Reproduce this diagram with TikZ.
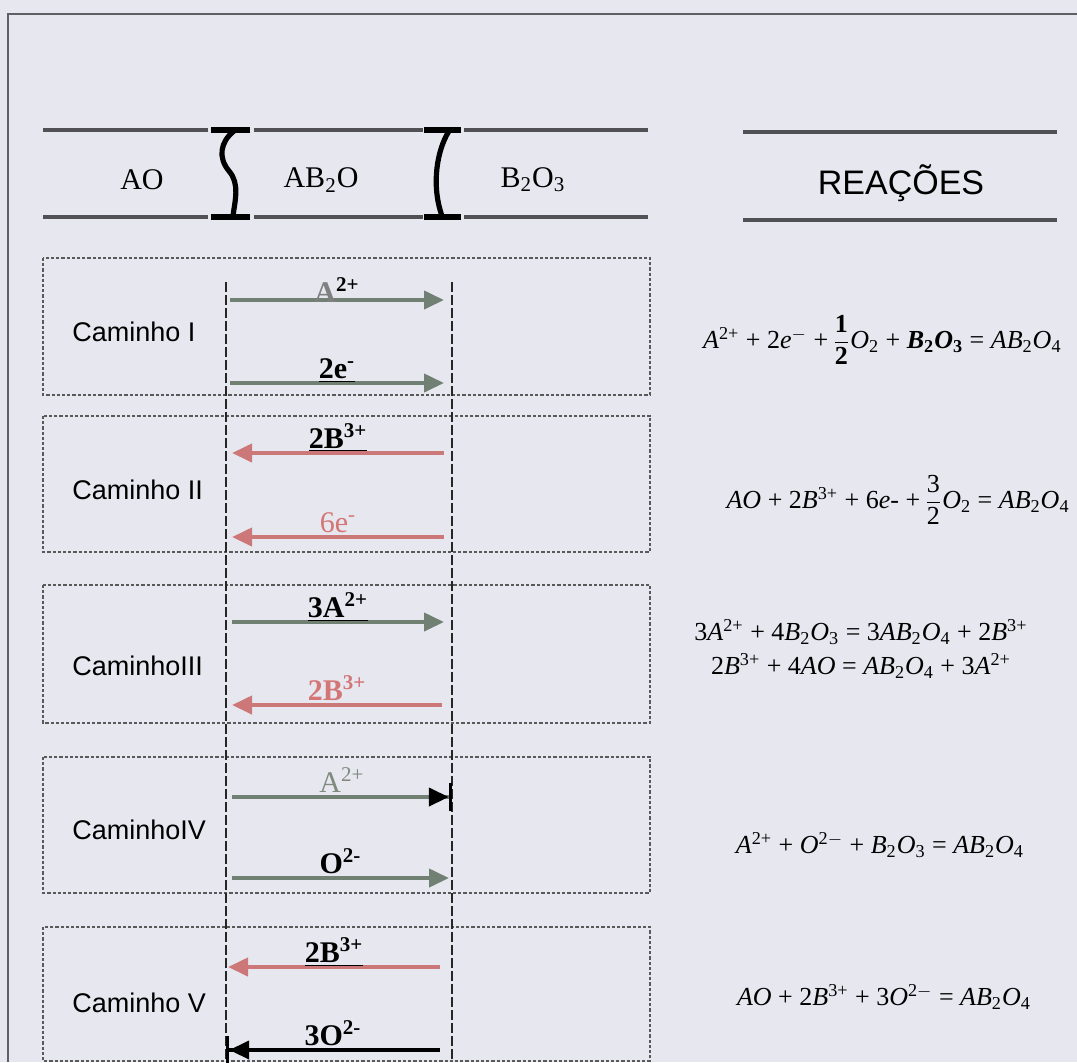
\documentclass[tikz,border=0pt]{standalone}
\usepackage{fontspec}
\setmainfont{Liberation Serif}
\newfontfamily\arialfont{Liberation Sans}
\usetikzlibrary{arrows.meta}
\definecolor{paper}{RGB}{231,231,240}
\definecolor{framegray}{RGB}{95,95,100}
\definecolor{rulegray}{RGB}{80,80,85}
\definecolor{ionA}{RGB}{112,128,114}
\definecolor{ionB}{RGB}{205,120,120}
\definecolor{labA}{RGB}{125,138,125}
\definecolor{labB}{RGB}{212,118,118}
\newcommand{\up}[1]{\textsuperscript{#1}}
\newcommand{\dn}[1]{\textsubscript{#1}}

\begin{document}
\begin{tikzpicture}[x=0.5pt, y=-0.5pt,
    hdr/.style={rulegray, line width=2pt},
    ibar/.style={black, line width=2.6pt},
    pathbox/.style={draw=gray!70!black, line width=0.8pt, dash pattern=on 1.6pt off 1pt},
    iface/.style={gray!30!black, line width=1pt, dash pattern=on 5pt off 1.5pt},
    tipA/.style={-{Triangle[length=10pt,width=9pt]}},
    fwd/.style={ionA, line width=2pt, tipA},
    bwd/.style={ionB, line width=2pt, tipA},
    caminho/.style={font=\arialfont\fontsize{13.5}{16}\selectfont, anchor=west, inner sep=0pt},
    phase/.style={font=\fontsize{15}{18}\selectfont, inner sep=0pt},
    ion/.style={font=\bfseries\fontsize{15}{18}\selectfont, text=black, inner sep=0pt, anchor=base, yshift=2.5pt},
    eqn/.style={font=\fontsize{13}{17}\selectfont, align=center, inner sep=0pt}]
  \useasboundingbox (0,0) rectangle (1077,1062);
  \fill[paper] (0,0) rectangle (1077,1062);
  \draw[framegray, line width=1.2pt] (8,1062) -- (8,14) -- (1077,14);

  % Header: phases
  \draw[hdr] (43,130) -- (208,130) (254,130) -- (423,130) (464,130) -- (648,130);
  \draw[hdr] (43,217) -- (208,217) (254,217) -- (423,217) (464,217) -- (648,217);
  \draw[ibar] (211,130) -- (250,130) (211,217) -- (250,217);
  \draw[ibar] (234,131) .. controls (220,142) and (218,158) .. (229,171)
                        .. controls (240,184) and (235,200) .. (233,216);
  \draw[ibar] (424,130) -- (461,130) (424,217) -- (461,217);
  \draw[ibar] (449,131) .. controls (437,150) and (431,185) .. (442,216);
  \node[phase] (ao)  at (142,180) {AO};
  \node[phase] (ab)  at (321,180) {AB\dn{2}O};
  \node[phase] (bo)  at (533,180) {B\dn{2}O\dn{3}};

  % Header: reacoes
  \draw[hdr] (743,132) -- (1057,132) (743,220) -- (1057,220);
  \node[font=\arialfont\fontsize{17}{20}\selectfont] (reac) at (901,183) {REAÇÕES};

  % boxes and interfaces
  \foreach \t/\b in {258/395, 416/552, 585/723, 757/893, 927/1061}
    \draw[pathbox] (43,\t) rectangle (650,\b);
  \draw[iface] (226,282) -- (226,1062);
  \draw[iface] (452,282) -- (452,1062);

  % Caminho I
  \node[caminho] (c1) at (72,332) {Caminho I};
  \coordinate (l1) at (230,300); \coordinate (r1) at (444,300);
  \coordinate (l2) at (230,383); \coordinate (r2) at (444,383);
  \draw[fwd] (l1) -- (r1) node[ion, midway, yshift=-3.5pt] {{\color{gray}A}\up{2+}};
  \draw[fwd] (l2) -- (r2) node[ion, midway] {\underline{2e\up{-}}};
  \node[eqn, anchor=east] (eq1) at (1062,340)
    {\textit{A}\up{2+} + 2\textit{e}\up{$-$} +\,$\displaystyle\frac{\mbox{\bfseries 1}}{\mbox{\bfseries 2}}$\textit{O}\dn{2}
     + \textbf{\textit{B}\dn{2}\textit{O}\dn{3}} = \textit{AB}\dn{2}\textit{O}\dn{4}};

  % Caminho II
  \node[caminho] (c2) at (72,490) {Caminho II};
  \coordinate (l3) at (232,453); \coordinate (r3) at (444,453);
  \coordinate (l4) at (232,537); \coordinate (r4) at (444,537);
  \draw[bwd] (r3) -- (l3) node[ion, midway] {\underline{2B\up{3+}}};
  \draw[bwd] (r4) -- (l4) node[ion, midway, font=\fontsize{15}{18}\selectfont, text=labB] {6e\up{-}};
  \node[eqn, anchor=east] (eq2) at (1070,500)
    {\textit{AO} + 2\textit{B}\up{3+} + 6\textit{e}- +\,$\displaystyle\frac{\mbox{3}}{\mbox{2}}$\textit{O}\dn{2} = \textit{AB}\dn{2}\textit{O}\dn{4}};

  % Caminho III
  \node[caminho] (c3) at (72,666) {CaminhoIII};
  \coordinate (l5) at (232,622); \coordinate (r5) at (444,622);
  \coordinate (l6) at (232,705); \coordinate (r6) at (442,705);
  \draw[fwd] (l5) -- (r5) node[ion, midway] {\underline{3A\up{2+}}};
  \draw[bwd] (r6) -- (l6) node[ion, midway, text=labB] {2B\up{3+}};
  \node[eqn] (eq3) at (861,649)
    {3\textit{A}\up{2+} + 4\textit{B}\dn{2}\textit{O}\dn{3} = 3\textit{AB}\dn{2}\textit{O}\dn{4} + 2\textit{B}\up{3+}\\
     2\textit{B}\up{3+} + 4\textit{AO} = \textit{AB}\dn{2}\textit{O}\dn{4} + 3\textit{A}\up{2+}};

  % Caminho IV
  \node[caminho] (c4) at (72,830) {CaminhoIV};
  \coordinate (l7) at (232,797); \coordinate (r7) at (452,797);
  \coordinate (l8) at (232,878); \coordinate (r8) at (449,878);
  \draw[ionA, line width=2pt, -{Triangle[length=10pt,width=9pt,color=black]Bar[width=14pt,line width=1.6pt,color=black]}]
    (l7) -- (r7) node[ion, midway, font=\fontsize{15}{18}\selectfont, text=labA] {A\up{2+}};
  \draw[fwd] (l8) -- (r8) node[ion, midway] {O\up{2-}};
  \node[eqn] (eq4) at (880,845)
    {\textit{A}\up{2+} + \textit{O}\up{2$-$} + \textit{B}\dn{2}\textit{O}\dn{3} = \textit{AB}\dn{2}\textit{O}\dn{4}};

  % Caminho V
  \node[caminho] (c5) at (72,1003) {Caminho V};
  \coordinate (l9) at (228,967);  \coordinate (r9) at (440,967);
  \coordinate (l10) at (226,1050); \coordinate (r10) at (440,1050);
  \draw[bwd] (r9) -- (l9) node[ion, midway] {\underline{2B\up{3+}}};
  \draw[black, line width=2pt, -{Triangle[length=10pt,width=9pt]Bar[width=14pt,line width=1.6pt]}]
    (r10) -- (l10) node[ion, midway] {3O\up{2-}};
  \node[eqn] (eq5) at (884,997)
    {\textit{AO} + 2\textit{B}\up{3+} + 3\textit{O}\up{2$-$} = \textit{AB}\dn{2}\textit{O}\dn{4}};
\end{tikzpicture}
\end{document}
